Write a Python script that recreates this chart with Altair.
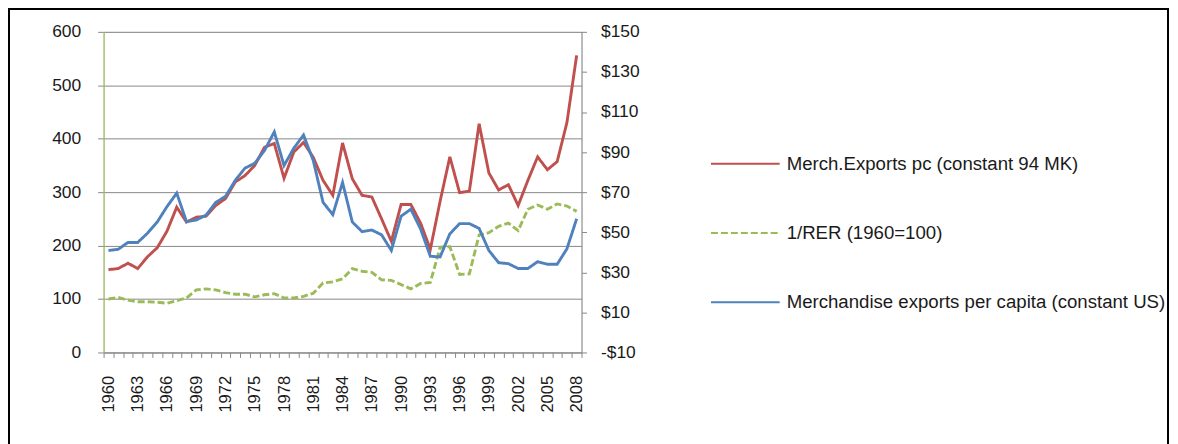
import altair as alt
import pandas as pd

years = list(range(1960, 2009))

merch_mk = [155, 157, 167, 157, 179, 196, 227, 272, 244, 253,
            255, 275, 288, 319, 331, 350, 384, 391, 326, 375,
            393, 365, 322, 294, 392, 325, 294, 291, 250, 208,
            277, 277, 242, 193, 283, 366, 299, 302, 428, 336,
            304, 314, 275, 322, 366, 342, 357, 430, 556]

rer_inv = [100, 103, 98, 95, 95, 94, 92, 97, 102, 117,
           119, 117, 112, 109, 109, 104, 108, 110, 102, 102,
           105, 111, 130, 132, 138, 157, 152, 150, 136, 135,
           127, 119, 129, 131, 197, 198, 146, 147, 220, 224,
           236, 242, 228, 268, 276, 268, 278, 274, 264]

merch_usd = [40.9, 41.5, 44.9, 44.9, 49.5, 55.1, 62.8, 69.5, 55.3, 56.1,
             58.5, 64.9, 67.9, 75.9, 82.0, 84.4, 90.8, 100.1, 83.3, 91.9,
             98.5, 85.7, 64.9, 58.8, 74.8, 55.1, 50.3, 51.1, 48.7, 40.9,
             58.0, 61.5, 51.6, 38.0, 37.7, 49.2, 54.3, 54.3, 51.9, 40.9,
             34.8, 34.3, 31.9, 31.9, 35.3, 34.0, 34.0, 41.7, 56.7]

series_names = ["Merch.Exports pc (constant 94 MK)",
                "1/RER (1960=100)",
                "Merchandise exports per capita (constant US)"]
series_colors = ["#C0504D", "#9BBB59", "#4F81BD"]
series_dashes = [[1, 0], [7, 3], [1, 0]]

label_years = [1960, 1963, 1966, 1969, 1972, 1975, 1978, 1981, 1984,
               1987, 1990, 1993, 1996, 1999, 2002, 2005, 2008]
left_ticks = [0, 100, 200, 300, 400, 500, 600]
right_ticks = [-10, 10, 30, 50, 70, 90, 110, 130, 150]

left_df = pd.DataFrame({
    "year": years + years,
    "value": merch_mk + rer_inv,
    "series": [series_names[0]] * len(years) + [series_names[1]] * len(years),
})
right_df = pd.DataFrame({
    "year": years,
    "value": merch_usd,
    "series": [series_names[2]] * len(years),
})

boundaries = [y - 0.5 for y in years] + [years[-1] + 0.5]
FONT = "Liberation Sans"
GREY = "#878787"
TXT = "#1a1a1a"

xscale = alt.Scale(domain=[boundaries[0], boundaries[-1]], nice=False, zero=False)
xaxis = alt.Axis(
    values=boundaries + label_years,
    labelExpr="datum.value % 1 == 0 ? format(datum.value, 'd') : ''",
    tickOpacity={"condition": {"test": "datum.value % 1 == 0", "value": 0}, "value": 1},
    labelAngle=-90, labelOverlap=False, labelFlush=False, labelBound=False,
    tickSize=5, tickColor=GREY, domainColor=GREY, labelPadding=18,
    labelFont=FONT, labelFontSize=16.6, labelColor=TXT, grid=False, title=None,
)

color = alt.Color("series:N", scale=alt.Scale(domain=series_names, range=series_colors),
                  sort=series_names, title=None)
dash = alt.StrokeDash("series:N", scale=alt.Scale(domain=series_names, range=series_dashes),
                      sort=series_names, title=None)

left = alt.Chart(left_df).mark_line(strokeWidth=2.9).encode(
    x=alt.X("year:Q", scale=xscale, axis=xaxis),
    y=alt.Y("value:Q", scale=alt.Scale(domain=[0, 600], nice=False),
            axis=alt.Axis(values=left_ticks, grid=True, gridColor=GREY, gridWidth=1,
                          domainColor="#9BBB59", domainWidth=1.2, tickColor=GREY, tickSize=6,
                          labelPadding=17, labelFont=FONT, labelFontSize=17.5, labelColor=TXT,
                          title=None)),
    color=color,
    strokeDash=dash,
)

right = alt.Chart(right_df).mark_line(strokeWidth=2.9).encode(
    x=alt.X("year:Q", scale=xscale, axis=xaxis),
    y=alt.Y("value:Q", scale=alt.Scale(domain=[-10, 150], nice=False),
            axis=alt.Axis(orient="right", values=right_ticks, grid=False,
                          domainColor=GREY, tickColor=GREY, tickSize=5, labelPadding=14,
                          labelFont=FONT, labelFontSize=17.5, labelColor=TXT,
                          labelExpr="datum.value < 0 ? '-$' + abs(datum.value) : '$' + datum.value",
                          title=None)),
    color=color,
    strokeDash=dash,
)

border = alt.Chart(pd.DataFrame({"k": [0]})).mark_rect(
    filled=False, stroke="black", strokeWidth=2
).encode(
    x=alt.value(-95), x2=alt.value(1069), y=alt.value(-23), y2=alt.value(440)
)

chart = alt.layer(border, left, right).resolve_scale(y="independent").properties(
    width=480, height=322,
    padding={"left": 96, "top": 23, "right": 591, "bottom": 91},
    autosize=alt.AutoSizeParams(type="none"),
).configure_view(stroke=None).configure(background="white").configure_legend(
    orient="none", legendX=609, legendY=97, padding=0,
    symbolType="stroke", symbolSize=4761, symbolStrokeWidth=2,
    labelFont=FONT, labelFontSize=18.7, labelColor=TXT, labelOffset=6,
    rowPadding=23.5, labelLimit=600,
)

chart.save("out.html", embed_options={"renderer": "svg", "actions": False})
